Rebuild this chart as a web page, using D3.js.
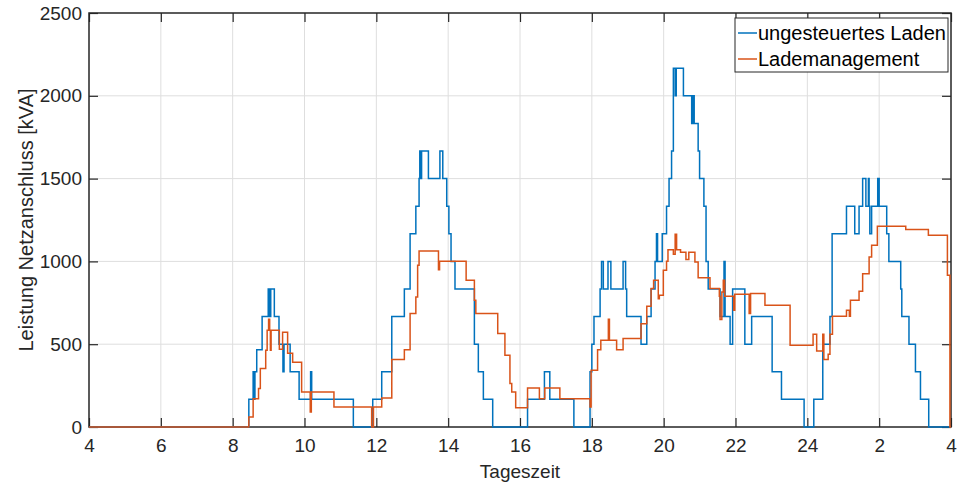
<!DOCTYPE html>
<html>
<head>
<meta charset="utf-8">
<script src="https://cdn.jsdelivr.net/npm/d3@7"></script>
<style>
  body { margin: 0; background: #fff; }
  svg { font-family: Arial, "Liberation Sans", Helvetica, sans-serif; }
</style>
</head>
<body>
<div id="chart"></div>
<script>
// Leistung am Netzanschluss, [Stunde, kVA], Stufenverlauf
const ungesteuert = [
  [4,0],[8.45,167],[8.57,333],[8.60,167],[8.62,333],[8.67,467],[8.82,667],[8.99,833],[9.03,667],[9.06,833],
  [9.16,667],[9.29,500],[9.40,333],[9.43,500],[9.6,333],[9.85,167],[10.17,333],[10.2,167],[11.36,0],[11.9,167],
  [12.15,333],[12.43,667],[12.78,833],[12.94,1167],[13.1,1333],[13.19,1500],[13.21,1667],[13.24,1500],[13.26,1667],
  [13.45,1500],[13.77,1667],[13.85,1500],[13.96,1333],[14.02,1167],[14.08,1000],[14.19,833],[14.73,500],[14.84,333],
  [14.98,167],[15.24,0],[16.21,167],[16.68,333],[16.83,167],[17.5,0],[17.95,333],[18.0,500],[18.06,667],[18.23,833],
  [18.27,1000],[18.32,833],[18.45,1000],[18.53,833],[18.87,1000],[18.94,833],[18.97,667],[19.37,500],[19.53,667],
  [19.65,833],[19.76,1000],[19.80,1167],[19.83,1000],[19.96,1167],[20.08,1333],[20.15,1500],[20.22,1667],[20.27,2167],
  [20.32,2000],[20.35,2167],[20.55,2000],[20.78,1833],[20.82,2000],[20.85,1833],[20.96,1667],[21.0,1500],[21.12,1333],
  [21.18,1000],[21.24,833],[21.57,667],[21.68,1000],[21.71,667],[21.85,500],[21.92,833],[22.26,500],[22.45,667],
  [23.02,333],[23.28,167],[23.91,0],[24.18,167],[24.43,500],[24.63,667],[24.69,1167],[25.09,1333],[25.32,1167],
  [25.44,1333],[25.54,1500],[25.63,1333],[25.70,1500],[25.72,1333],[25.74,1167],[25.79,1333],[25.96,1500],[26.0,1333],
  [26.21,1167],[26.27,1000],[26.6,833],[26.63,667],[26.83,500],[27.01,333],[27.15,167],[27.38,0],[28,0]
];
const lademanagement = [
  [4,0],[8.45,60],[8.57,170],[8.72,232],[8.77,353],[8.92,463],[8.96,584],[9.0,650],[9.03,584],[9.05,463],[9.07,584],
  [9.3,470],[9.39,572],[9.53,445],[9.67,391],[9.92,211],[10.16,90],[10.19,211],[10.82,121],[11.87,0],[11.92,121],
  [12.15,175],[12.43,407],[12.78,467],[12.94,685],[13.1,785],[13.15,977],[13.19,1063],[13.73,950],[13.76,1001],
  [14.5,886],[14.73,765],[14.77,685],[15.38,564],[15.58,433],[15.72,262],[15.77,211],[15.88,117],[16.21,236],
  [16.54,171],[16.69,236],[17.11,171],[17.95,121],[17.98,342],[18.16,467],[18.25,524],[18.46,650],[18.49,524],
  [18.69,467],[18.87,534],[19.37,624],[19.53,729],[19.65,836],[19.72,886],[19.85,775],[19.88,795],[19.99,946],
  [20.08,1001],[20.12,1071],[20.27,1043],[20.32,1164],[20.36,1071],[20.47,1055],[20.62,1011],[20.7,1055],[20.87,997],
  [20.96,902],[21.29,836],[21.55,789],[21.57,649],[21.62,815],[21.66,886],[21.7,789],[21.95,705],[21.98,801],
  [22.38,685],[22.42,806],[22.82,735],[23.52,493],[24.16,560],[24.26,459],[24.43,560],[24.46,407],[24.58,440],
  [24.63,560],[24.70,669],[25.09,705],[25.17,669],[25.20,765],[25.44,820],[25.54,926],[25.72,1027],[25.79,1097],
  [25.95,1212],[26.74,1192],[27.37,1158],[27.9,916],[27.97,0],[28,0]
];

const seriesNames = ["ungesteuertes Laden", "Lademanagement"];
const seriesColors = ["#0072BD", "#D95319"];
const xTicks = [4, 6, 8, 10, 12, 14, 16, 18, 20, 22, 24, 26, 28];
const xTickLabels = ["4", "6", "8", "10", "12", "14", "16", "18", "20", "22", "24", "2", "4"];
const yTicks = [0, 500, 1000, 1500, 2000, 2500];

// Set the dimensions and margins of the graph
const W = 971, H = 482;
const margin = { top: 13, right: 20, bottom: 55, left: 89 },
    width = W - margin.left - margin.right,
    height = H - margin.top - margin.bottom;

const svg = d3.select("#chart")
    .append("svg")
    .attr("width", W)
    .attr("height", H)
    .append("g")
    .attr("transform", `translate(${margin.left},${margin.top})`);

const x = d3.scaleLinear().domain([4, 28]).range([0, width]);
const y = d3.scaleLinear().domain([0, 2500]).range([height, 0]);

const axisColor = "#262626";
const fontSize = "19px";

// Grid
svg.append("g")
    .selectAll("line")
    .data(xTicks.slice(1, -1))
    .join("line")
    .attr("x1", d => x(d)).attr("x2", d => x(d))
    .attr("y1", 0).attr("y2", height)
    .attr("stroke", "#dedede").attr("stroke-width", 1);
svg.append("g")
    .selectAll("line")
    .data(yTicks.slice(1, -1))
    .join("line")
    .attr("x1", 0).attr("x2", width)
    .attr("y1", d => y(d)).attr("y2", d => y(d))
    .attr("stroke", "#dedede").attr("stroke-width", 1);

// Axes with inward ticks on all four sides
function styleAxis(g) {
    g.select(".domain").remove();
    g.selectAll(".tick line").attr("stroke", axisColor).attr("stroke-width", 1.2);
    g.selectAll(".tick text").attr("fill", axisColor).style("font-size", fontSize);
}
svg.append("g")
    .attr("transform", `translate(0,${height})`)
    .call(d3.axisBottom(x).tickValues(xTicks).tickSize(-9).tickPadding(12)
        .tickFormat((d, i) => xTickLabels[i]))
    .call(styleAxis);
svg.append("g")
    .call(d3.axisTop(x).tickValues(xTicks).tickSize(-9).tickFormat(""))
    .call(styleAxis);
svg.append("g")
    .call(d3.axisLeft(y).tickValues(yTicks).tickSize(-9).tickPadding(7)
        .tickFormat(d3.format("d")))
    .call(styleAxis);
svg.append("g")
    .attr("transform", `translate(${width},0)`)
    .call(d3.axisRight(y).tickValues(yTicks).tickSize(-9).tickFormat(""))
    .call(styleAxis);

svg.append("rect")
    .attr("width", width).attr("height", height)
    .attr("fill", "none")
    .attr("stroke", axisColor).attr("stroke-width", 1.5);

// Lines
const line = d3.line()
    .x(d => x(d[0]))
    .y(d => y(d[1]))
    .curve(d3.curveStepAfter);

[ungesteuert, lademanagement].forEach((data, i) => {
    svg.append("path")
        .datum(data)
        .attr("fill", "none")
        .attr("stroke", seriesColors[i])
        .attr("stroke-width", 1.5)
        .attr("d", line);
});

// Axis labels
svg.append("text")
    .attr("x", width / 2)
    .attr("y", height + 51)
    .attr("text-anchor", "middle")
    .attr("fill", axisColor)
    .style("font-size", fontSize)
    .text("Tageszeit");

svg.append("text")
    .attr("transform", `translate(${-56},${height / 2}) rotate(-90)`)
    .attr("text-anchor", "middle")
    .attr("fill", axisColor)
    .style("font-size", "20px")
    .text("Leistung Netzanschluss [kVA]");

// Legend
const legend = svg.append("g")
    .attr("transform", `translate(${width - 216},5)`);
legend.append("rect")
    .attr("width", 213).attr("height", 54)
    .attr("fill", "#fff")
    .attr("stroke", axisColor).attr("stroke-width", 1);
seriesNames.forEach((name, i) => {
    const ly = 15 + i * 26;
    legend.append("line")
        .attr("x1", 3).attr("x2", 22)
        .attr("y1", ly).attr("y2", ly)
        .attr("stroke", seriesColors[i]).attr("stroke-width", 1.5);
    legend.append("text")
        .attr("x", 23).attr("y", ly)
        .attr("dy", "0.35em")
        .attr("fill", "#000")
        .style("font-size", "20px")
        .text(name);
});
</script>
</body>
</html>
